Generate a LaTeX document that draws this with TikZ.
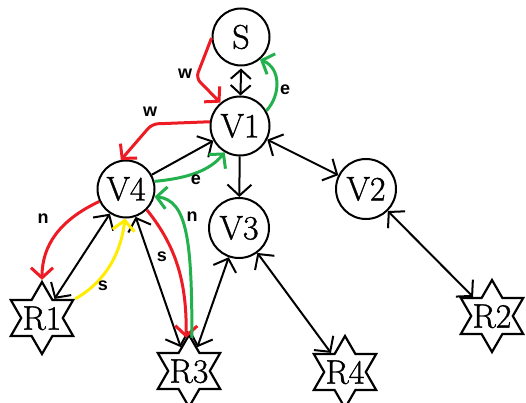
\documentclass[tikz,border=0pt]{standalone}
\usetikzlibrary{arrows.meta,shapes.geometric}
\usepackage{fontspec}
\newfontfamily\lblfont{Liberation Sans}
\newfontfamily\nodefont[FakeBold=1]{Latin Modern Roman}
\definecolor{pred}{RGB}{237,28,36}
\definecolor{pgreen}{RGB}{34,177,76}
\definecolor{pyellow}{RGB}{255,236,0}
\newcommand\zbox[1]{\makebox[0pt]{\raisebox{-.5\height}[0pt][0pt]{#1}}}
\tikzset{
  bigtext/.style={font=\nodefont\fontsize{34}{36}\selectfont},
  vnode/.style={circle,draw,line width=2pt,minimum size=60pt,inner sep=0pt,bigtext},
  rnode/.style={star,star points=6,star point ratio=1.732,draw,line width=2.2pt,
    minimum size=72pt,inner sep=0pt,bigtext},
  tipb/.tip={Straight Barb[length=11pt,width=24pt]},
  tipc/.tip={Straight Barb[length=10pt,width=22pt]},
  one/.style={line width=2pt,-tipb},
  two/.style={line width=2pt,tipb-tipb},
  cl/.style={line width=3pt,-tipc,rounded corners=6pt},
  lbl/.style={font=\lblfont\bfseries\fontsize{18}{20}\selectfont,inner sep=0pt},
}
\begin{document}
\begin{tikzpicture}[x=1pt,y=-1pt]
\useasboundingbox (0,0) rectangle (526,403);
\node[vnode,minimum size=57pt] (S)  at (241,37)  {S};
\node[vnode,minimum size=59pt] (V1) at (240,126) {V1};
\node[vnode,minimum size=57pt] (V4) at (126,189) {V4};
\node[vnode] (V2) at (366,189) {V2};
\node[vnode] (V3) at (239,228) {V3};
\node[rnode] (R1) at (42,318)  {\zbox{R1}};
\node[rnode] (R3) at (189,371) {\zbox{R3}};
\node[rnode] (R4) at (345,372) {\zbox{R4}};
\node[rnode] (R2) at (492,316) {\zbox{R2}};
% black edges
\draw[line width=2pt,{Straight Barb[length=9pt,width=20pt]}-{Straight Barb[length=9pt,width=20pt]}]
  ([yshift=-2pt]S.south) -- (V1);
\draw[one] (V4) -- (V1);
\draw[one] (V1) -- (V3);
\draw[two] (V1) -- (V2);
\draw[two] (V4) -- (R1);
\draw[two] (V4) -- (R3);
\draw[two] (V3) -- (R3);
\draw[two] (V3) -- (R4);
\draw[two] (V2) -- (R2);
% coloured walks
\draw[cl,pred] (S.182) -- (196,78) -- (V1.130);
\draw[cl,pred] (V1.172) -- (152,124) -- (V4.100);
\draw[cl,pgreen] (V1.30) .. controls (281,95) and (281,68) .. (S.-50);
\draw[cl,pgreen] (V4.15) .. controls (190,178) and (210,170) .. (V1.-120);
\draw[cl,pred] (V4.-155) .. controls (60,220) and (42,245) .. (R1.90);
\draw[cl,pyellow] (R1.30) .. controls (100,285) and (120,260) .. (V4.-92);
\draw[cl,pred] (V4.-45) .. controls (175,245) and (187,280) .. (R3.95);
\draw[cl,pgreen] (R3.85) .. controls (192,240) and (187,200) .. (V4.-15);
% labels
\node[lbl] (lw1) at (185,74) {w};
\node[lbl] (lw2) at (150,112) {w};
\node[lbl] (le1) at (285,90) {e};
\node[lbl] (le2) at (196,180) {e};
\node[lbl] (ln1) at (43,219) {n};
\node[lbl] (ls1) at (103,286) {s};
\node[lbl] (ls2) at (162,257) {s};
\node[lbl] (ln2) at (192,217) {n};
\end{tikzpicture}
\end{document}
